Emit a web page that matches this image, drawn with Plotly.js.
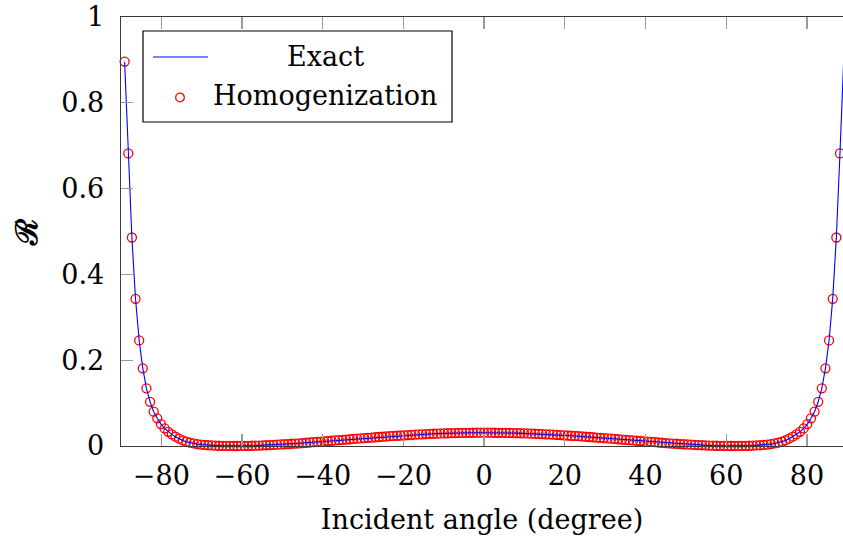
<!DOCTYPE html>
<html>
<head>
<meta charset="utf-8">
<script src="https://cdn.plot.ly/plotly-3.0.1.min.js"></script>
<style>
  html, body { margin: 0; padding: 0; background: #fff; }
  #chart { width: 843px; height: 542px; }
</style>
</head>
<body>
<div id="chart"></div>
<script>
// Incident angles (degrees), sampled every 0.9 degree
const incidentAngle = [
  -89.1, -88.2, -87.3, -86.4, -85.5, -84.6, -83.7, -82.8, -81.9, -81.0,
  -80.1, -79.2, -78.3, -77.4, -76.5, -75.6, -74.7, -73.8, -72.9, -72.0,
  -71.1, -70.2, -69.3, -68.4, -67.5, -66.6, -65.7, -64.8, -63.9, -63.0,
  -62.1, -61.2, -60.3, -59.4, -58.5, -57.6, -56.7, -55.8, -54.9, -54.0,
  -53.1, -52.2, -51.3, -50.4, -49.5, -48.6, -47.7, -46.8, -45.9, -45.0,
  -44.1, -43.2, -42.3, -41.4, -40.5, -39.6, -38.7, -37.8, -36.9, -36.0,
  -35.1, -34.2, -33.3, -32.4, -31.5, -30.6, -29.7, -28.8, -27.9, -27.0,
  -26.1, -25.2, -24.3, -23.4, -22.5, -21.6, -20.7, -19.8, -18.9, -18.0,
  -17.1, -16.2, -15.3, -14.4, -13.5, -12.6, -11.7, -10.8, -9.9, -9.0,
  -8.1, -7.2, -6.3, -5.4, -4.5, -3.6, -2.7, -1.8, -0.9,
  0,
  0.9, 1.8, 2.7, 3.6, 4.5, 5.4, 6.3, 7.2, 8.1,
  9.0, 9.9, 10.8, 11.7, 12.6, 13.5, 14.4, 15.3, 16.2, 17.1,
  18.0, 18.9, 19.8, 20.7, 21.6, 22.5, 23.4, 24.3, 25.2, 26.1,
  27.0, 27.9, 28.8, 29.7, 30.6, 31.5, 32.4, 33.3, 34.2, 35.1,
  36.0, 36.9, 37.8, 38.7, 39.6, 40.5, 41.4, 42.3, 43.2, 44.1,
  45.0, 45.9, 46.8, 47.7, 48.6, 49.5, 50.4, 51.3, 52.2, 53.1,
  54.0, 54.9, 55.8, 56.7, 57.6, 58.5, 59.4, 60.3, 61.2, 62.1,
  63.0, 63.9, 64.8, 65.7, 66.6, 67.5, 68.4, 69.3, 70.2, 71.1,
  72.0, 72.9, 73.8, 74.7, 75.6, 76.5, 77.4, 78.3, 79.2, 80.1,
  81.0, 81.9, 82.8, 83.7, 84.6, 85.5, 86.4, 87.3, 88.2, 89.1
];

// Reflection coefficient; exact and homogenized solutions agree to plotting accuracy
const reflection = [
  0.896, 0.682, 0.486, 0.343, 0.246, 0.181, 0.1345, 0.103, 0.080, 0.0645,
  0.051, 0.041, 0.033, 0.027, 0.0217, 0.017, 0.013, 0.010, 0.0078, 0.0060,
  0.0046, 0.0034, 0.0025, 0.0018, 0.0013, 0.0009, 0.0006, 0.0004, 0.0002, 0.0001,
  0.0000, 0.0000, 0.0001, 0.0002, 0.0004, 0.0006, 0.0008, 0.0011, 0.0015, 0.0018,
  0.0022, 0.0026, 0.0031, 0.0036, 0.0041, 0.0046, 0.0052, 0.0057, 0.0063, 0.0069,
  0.0076, 0.0082, 0.0089, 0.0095, 0.0102, 0.0109, 0.0116, 0.0122, 0.0129, 0.0136,
  0.0143, 0.0150, 0.0157, 0.0164, 0.0171, 0.0177, 0.0184, 0.0191, 0.0197, 0.0204,
  0.0210, 0.0216, 0.0222, 0.0228, 0.0234, 0.0239, 0.0245, 0.0250, 0.0255, 0.0260,
  0.0264, 0.0269, 0.0273, 0.0277, 0.0281, 0.0285, 0.0288, 0.0292, 0.0294, 0.0297,
  0.0300, 0.0302, 0.0304, 0.0305, 0.0307, 0.0308, 0.0309, 0.0310, 0.0310,
  0.0310,
  0.0310, 0.0310, 0.0309, 0.0308, 0.0307, 0.0305, 0.0304, 0.0302, 0.0300,
  0.0297, 0.0294, 0.0292, 0.0288, 0.0285, 0.0281, 0.0277, 0.0273, 0.0269, 0.0264,
  0.0260, 0.0255, 0.0250, 0.0245, 0.0239, 0.0234, 0.0228, 0.0222, 0.0216, 0.0210,
  0.0204, 0.0197, 0.0191, 0.0184, 0.0177, 0.0171, 0.0164, 0.0157, 0.0150, 0.0143,
  0.0136, 0.0129, 0.0122, 0.0116, 0.0109, 0.0102, 0.0095, 0.0089, 0.0082, 0.0076,
  0.0069, 0.0063, 0.0057, 0.0052, 0.0046, 0.0041, 0.0036, 0.0031, 0.0026, 0.0022,
  0.0018, 0.0015, 0.0011, 0.0008, 0.0006, 0.0004, 0.0002, 0.0001, 0.0000, 0.0000,
  0.0001, 0.0002, 0.0004, 0.0006, 0.0009, 0.0013, 0.0018, 0.0025, 0.0034, 0.0046,
  0.0060, 0.0078, 0.010, 0.013, 0.017, 0.0217, 0.027, 0.033, 0.041, 0.051,
  0.0645, 0.080, 0.103, 0.1345, 0.181, 0.246, 0.343, 0.486, 0.682, 0.896
];

const xTicks = [-80, -60, -40, -20, 0, 20, 40, 60, 80];
const yTicks = [0, 0.2, 0.4, 0.6, 0.8, 1];
const yTickText = ['0', '0.2', '0.4', '0.6', '0.8', '1'];
const legendLabels = ['Exact', 'Homogenization'];

const FONT = 'DejaVu Serif, Liberation Serif, serif';
const TICK_GRAY = '#9a9a9a';
const FRAME = '#3a3a3a';

const traces = [
  {
    x: incidentAngle, y: reflection, name: legendLabels[1],
    type: 'scatter', mode: 'markers', cliponaxis: false,
    marker: { symbol: 'circle-open', size: 9, color: '#ff0000', line: { width: 1.3, color: '#ff0000' } },
    showlegend: false
  },
  {
    x: incidentAngle, y: reflection, name: legendLabels[0],
    type: 'scatter', mode: 'lines',
    line: { color: '#0000ff', width: 1.1 },
    showlegend: false
  }
];

// plot area in pixels, used to place the hand-built legend box
const L = 121, R = 843, T = 17, B = 446;
const px = v => (v - L) / (R - L);
const py = v => (B - v) / (B - T);

const layout = {
  width: 843, height: 542,
  margin: { l: L, r: 843 - R, t: T, b: 542 - B },
  paper_bgcolor: '#fff', plot_bgcolor: '#fff',
  font: { family: FONT, color: '#000', size: 27 },
  showlegend: false,
  xaxis: {
    range: [-90, 88.95],
    tickvals: xTicks,
    ticks: 'inside', ticklen: 12, tickwidth: 1.3, tickcolor: TICK_GRAY,
    showline: true, linecolor: FRAME, linewidth: 1.3, mirror: 'ticks',
    showgrid: false, zeroline: false,
    tickfont: { family: FONT, size: 27, color: '#000' },
    ticklabelstandoff: 5,
    automargin: false,
    title: { text: 'Incident angle (degree)', font: { family: FONT, size: 27, color: '#000' }, standoff: 20 }
  },
  yaxis: {
    range: [0, 1],
    tickvals: yTicks, ticktext: yTickText,
    ticks: 'inside', ticklen: 12, tickwidth: 1.3, tickcolor: TICK_GRAY,
    showline: true, linecolor: FRAME, linewidth: 1.3, mirror: false,
    showgrid: false, zeroline: false,
    tickfont: { family: FONT, size: 27, color: '#000' },
    ticklabelstandoff: 10,
    automargin: false,
    title: { text: 'ℛ', font: { family: FONT, size: 30, color: '#000', weight: 'bold' }, standoff: 14 }
  },
  yaxis2: {
    overlaying: 'y', side: 'right', anchor: 'x',
    range: [0, 1], tickvals: yTicks,
    ticks: 'inside', ticklen: 12, tickwidth: 1.3, tickcolor: TICK_GRAY,
    showticklabels: false, showline: false, showgrid: false, zeroline: false
  },
  shapes: [
    { type: 'rect', xref: 'paper', yref: 'paper', layer: 'above',
      x0: px(143), x1: px(452), y0: py(122), y1: py(31),
      line: { color: '#000', width: 1.2 }, fillcolor: '#fff' },
    { type: 'line', xref: 'paper', yref: 'paper', layer: 'above',
      x0: px(153), x1: px(208), y0: py(57), y1: py(57),
      line: { color: '#0000ff', width: 1.1 } },
    { type: 'circle', xref: 'paper', yref: 'paper', layer: 'above',
      xsizemode: 'pixel', ysizemode: 'pixel',
      xanchor: px(180), yanchor: py(97.5),
      x0: -4.3, x1: 4.3, y0: -4.3, y1: 4.3,
      line: { color: '#ff0000', width: 1.3 } }
  ],
  annotations: [
    { xref: 'paper', yref: 'paper', x: px(325.5), y: py(56), xanchor: 'center', yanchor: 'middle',
      text: legendLabels[0], showarrow: false, font: { family: FONT, size: 27, color: '#000' } },
    { xref: 'paper', yref: 'paper', x: px(325), y: py(96), xanchor: 'center', yanchor: 'middle',
      text: legendLabels[1], showarrow: false, font: { family: FONT, size: 27, color: '#000' } }
  ]
};

Plotly.newPlot('chart', traces, layout, { staticPlot: true, displayModeBar: false });
</script>
</body>
</html>
